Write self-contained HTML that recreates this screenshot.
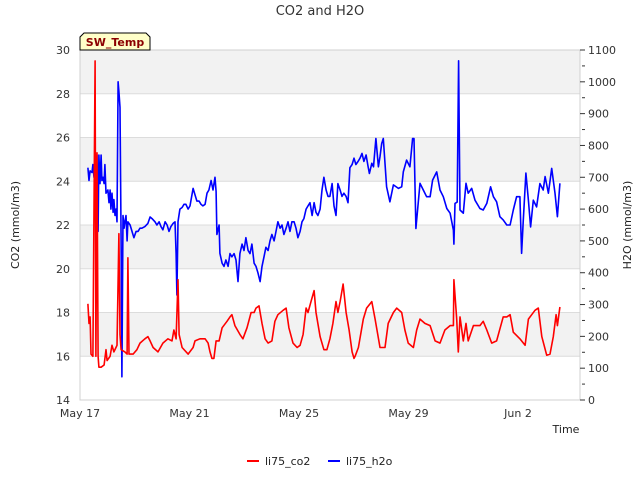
<!DOCTYPE html>
<html><head><meta charset="utf-8"><style>
body{margin:0;background:#fff;font-family:"Liberation Sans","DejaVu Sans",sans-serif}
svg text{font-family:"DejaVu Sans","Liberation Sans",sans-serif}
</style></head><body>
<svg id="chart" width="640" height="480" xmlns="http://www.w3.org/2000/svg"></svg>
<script>
const co2Days=[.29,.33,.37,.40,.47,.55,.58,.62,.66,.69,.77,.88,.95,.99,1.10,1.17,1.24,1.35,1.42,1.46,1.50,1.64,1.72,1.75,1.79,1.94,2.08,2.19,2.37,2.48,2.56,2.67,2.85,3.03,3.21,3.36,3.43,3.51,3.58,3.62,3.73,3.95,4.13,4.20,4.38,4.57,4.68,4.75,4.82,4.89,4.97,5.08,5.19,5.37,5.48,5.55,5.66,5.84,5.95,6.10,6.25,6.36,6.43,6.54,6.65,6.76,6.87,7.01,7.12,7.23,7.42,7.53,7.63,7.78,7.93,8.04,8.15,8.26,8.33,8.44,8.55,8.62,8.77,8.91,9.02,9.13,9.24,9.35,9.42,9.50,9.61,9.72,9.83,9.94,10.01,10.05,10.17,10.35,10.47,10.66,10.78,10.96,11.14,11.26,11.45,11.57,11.75,11.87,11.99,12.18,12.30,12.42,12.60,12.79,12.97,13.15,13.33,13.52,13.64,13.66,13.76,13.82,13.88,14.00,14.10,14.18,14.37,14.61,14.73,14.86,15.04,15.22,15.46,15.59,15.71,15.83,16.07,16.26,16.38,16.50,16.62,16.74,16.87,17.05,17.17,17.29,17.39,17.44,17.53];
const co2Values=[18.4,17.5,17.8,16.1,16.0,29.5,16.0,25.3,16.0,15.5,15.5,15.6,16.3,15.8,16.0,16.5,16.2,16.5,21.6,17.0,16.3,16.2,16.1,20.5,16.1,16.1,16.3,16.6,16.8,16.9,16.7,16.4,16.2,16.6,16.8,16.7,17.2,16.8,19.5,17.0,16.4,16.1,16.4,16.7,16.8,16.8,16.6,16.2,15.9,15.9,16.7,16.7,17.3,17.6,17.8,17.9,17.4,17.0,16.8,17.3,18.0,18.0,18.2,18.3,17.5,16.8,16.6,16.7,17.6,17.9,18.1,18.2,17.3,16.6,16.4,16.5,17.0,18.2,18.0,18.5,19.0,18.0,16.9,16.3,16.3,16.8,17.5,18.5,18.0,18.5,19.3,18.0,17.2,16.2,15.9,16.0,16.4,17.7,18.2,18.5,17.7,16.4,16.4,17.5,18.0,18.2,18.0,17.2,16.6,16.4,17.2,17.7,17.5,17.4,16.7,16.6,17.2,17.4,17.4,19.5,17.7,16.2,17.8,16.7,17.5,16.7,17.4,17.4,17.6,17.2,16.6,16.7,17.8,17.8,17.9,17.1,16.8,16.5,17.7,17.9,18.1,18.2,16.9,16.05,16.1,16.9,17.9,17.4,18.25];
const h2oDays=[.29,.33,.37,.44,.47,.51,.55,.58,.62,.66,.69,.73,.77,.80,.84,.88,.91,.95,1.02,1.06,1.10,1.13,1.17,1.21,1.24,1.28,1.32,1.35,1.39,1.42,1.46,1.50,1.53,1.57,1.61,1.64,1.68,1.72,1.75,1.83,1.90,1.97,2.05,2.12,2.19,2.26,2.37,2.48,2.56,2.63,2.74,2.81,2.89,2.96,3.03,3.11,3.18,3.25,3.32,3.40,3.47,3.51,3.54,3.58,3.65,3.73,3.80,3.87,3.95,4.02,4.13,4.20,4.27,4.35,4.42,4.49,4.57,4.64,4.71,4.79,4.86,4.93,4.97,5.00,5.08,5.11,5.19,5.26,5.33,5.41,5.48,5.55,5.63,5.70,5.77,5.84,5.92,5.99,6.06,6.14,6.21,6.28,6.36,6.43,6.50,6.58,6.65,6.72,6.79,6.87,6.94,7.01,7.09,7.16,7.23,7.31,7.38,7.45,7.53,7.60,7.67,7.74,7.82,7.89,7.96,8.04,8.11,8.18,8.26,8.33,8.40,8.48,8.55,8.62,8.69,8.77,8.84,8.91,8.99,9.06,9.13,9.21,9.28,9.35,9.42,9.50,9.57,9.64,9.72,9.79,9.86,9.94,10.01,10.08,10.16,10.23,10.30,10.37,10.45,10.52,10.57,10.66,10.72,10.81,10.90,10.96,11.02,11.08,11.20,11.32,11.45,11.63,11.75,11.81,11.93,12.05,12.15,12.20,12.27,12.42,12.54,12.66,12.79,12.88,13.03,13.15,13.27,13.40,13.52,13.64,13.66,13.70,13.78,13.83,13.88,14.00,14.10,14.18,14.31,14.43,14.61,14.73,14.86,15.00,15.10,15.22,15.34,15.46,15.59,15.71,15.83,15.95,16.07,16.13,16.19,16.29,16.38,16.46,16.56,16.68,16.80,16.92,16.99,17.11,17.23,17.35,17.44,17.53];
const h2oValues=[730,690,720,715,740,700,740,730,770,530,770,680,770,690,700,680,740,650,660,620,660,600,650,590,630,580,600,560,1000,970,920,500,73,580,540,560,580,500,560,550,530,510,530,530,540,540,545,555,575,570,560,550,560,545,535,560,550,530,545,555,560,460,330,560,600,605,615,615,600,610,665,645,625,625,615,610,615,650,660,690,660,700,655,520,550,461,430,420,440,420,460,450,460,440,372,460,490,470,510,470,460,490,430,420,400,372,420,450,480,470,500,520,500,530,560,540,550,520,540,560,530,560,560,540,510,530,560,570,600,610,620,580,620,590,580,600,660,700,660,640,640,680,610,580,680,660,640,650,640,620,730,740,760,740,750,760,775,750,770,735,712,744,733,822,733,765,806,822,670,623,676,665,670,717,754,733,822,822,539,681,660,639,639,691,717,660,639,602,587,534,490,618,622,1066,597,587,681,650,665,628,602,597,618,670,639,623,576,566,550,550,597,639,639,461,560,713,628,544,628,607,680,660,702,650,728,650,576,681];
const leftTicks=[14,16,18,20,22,24,26,28,30];
const rightTicks=[0,100,200,300,400,500,600,700,800,900,1000,1100];
const dateTicks=[0,4,8,12,16];
const dateLabels=["May 17","May 21","May 25","May 29","Jun 2"];

const NS="http://www.w3.org/2000/svg";
const svg=document.getElementById('chart');
const L=80,R=580,T=50,B=400;
const xS=d=>L+d*27.375;
const yL=v=>B-(v-14)*(B-T)/16;
const yR=v=>B-v*(B-T)/1100;
function mk(tag,attrs,parent){const e=document.createElementNS(NS,tag);for(const k in attrs)e.setAttribute(k,attrs[k]);(parent||svg).appendChild(e);return e;}

// bands
for(let v=16;v<30;v+=4){
  const b=mk('rect',{x:L,y:yL(v+2),width:R-L,height:yL(v)-yL(v+2),fill:'#f2f2f2'});
  
  
}
leftTicks.forEach(v=>{
  const g=mk('line',{x1:L,x2:R,y1:yL(v),y2:yL(v),stroke:'#dcdcdc','stroke-width':1});
  
  
  const t=mk('text',{x:L-10,y:yL(v)+4,'text-anchor':'end','font-size':11,fill:'#333'});
  t.textContent=v;
  
  
});
// axes frame
const fr=mk('rect',{x:L,y:T,width:R-L,height:B-T,fill:'none',stroke:'#d0d0d0'});


rightTicks.forEach(v=>{
  const tk=mk('line',{x1:R,x2:R+5,y1:yR(v),y2:yR(v),stroke:'#333'});
  
  
  if(v<1100){const m=mk('line',{x1:R+2,x2:R+5,y1:yR(v+50),y2:yR(v+50),stroke:'#333'});
  
  }
  const t=mk('text',{x:R+8,y:yR(v)+4,'font-size':11,fill:'#333'});
  t.textContent=v;
  
  
});
dateTicks.forEach((d,i)=>{
  const t=mk('text',{x:xS(d),y:417,'text-anchor':'middle','font-size':11,fill:'#333'});
  t.textContent=dateLabels[i];
  
  
});
function line(days,vals,ys,color,name){
  const p=mk('polyline',{points:days.map((d,i)=>xS(d).toFixed(1)+','+ys(vals[i]).toFixed(1)).join(' '),fill:'none',stroke:color,'stroke-width':1.6,'stroke-linejoin':'round'});
  
  
}
line(h2oDays,h2oValues,yR,'#0000ff','h2o-series');
line(co2Days,co2Values,yL,'#ff0000','co2-series');
</script>
<svg style="position:absolute;left:0;top:0" width="640" height="480" xmlns="http://www.w3.org/2000/svg">
<text x="320" y="15" text-anchor="middle" font-size="13" fill="#333">CO2 and H2O</text>
<text transform="translate(19,225) rotate(-90)" text-anchor="middle" font-size="11" fill="#222">CO2 (mmol/m3)</text>
<text transform="translate(631,225) rotate(-90)" text-anchor="middle" font-size="11" fill="#222">H2O (mmol/m3)</text>
<text x="566" y="433" text-anchor="middle" font-size="11" fill="#222">Time</text>
<g>
<polygon points="84,33 146,33 150,37 150,50 80,50 80,37" fill="#ffffc8" stroke="#000" stroke-width="1"/>
<text x="115" y="46" text-anchor="middle" font-size="11" font-weight="bold" fill="#8b0000">SW_Temp</text>
</g>
<g>
<line x1="247" x2="259" y1="461" y2="461" stroke="#ff0000" stroke-width="2"/>
<text x="265" y="465" font-size="11" fill="#222">li75_co2</text>
</g>
<g>
<line x1="328" x2="340" y1="461" y2="461" stroke="#0000ff" stroke-width="2"/>
<text x="346" y="465" font-size="11" fill="#222">li75_h2o</text>
</g>
</svg>
</body></html>
